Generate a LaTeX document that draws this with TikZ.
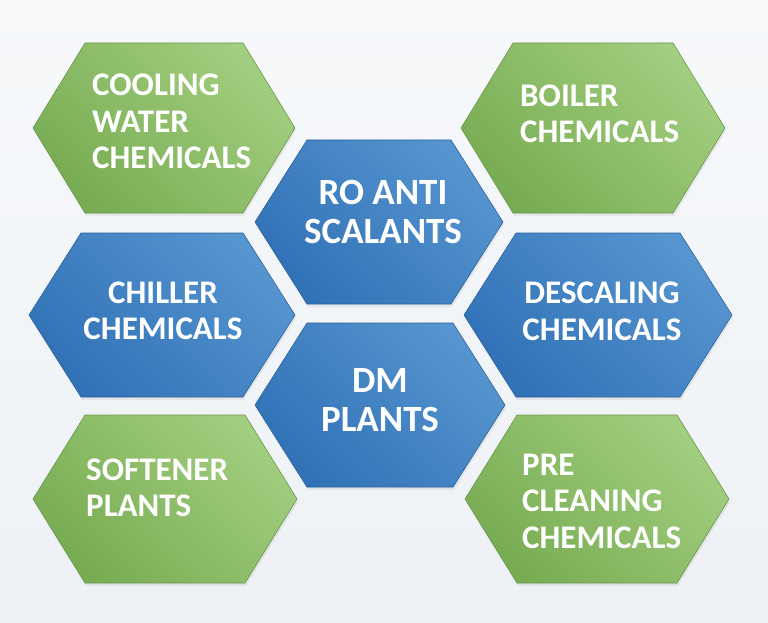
\documentclass[tikz,border=0pt]{standalone}
\usepackage{fontspec}
\setmainfont{Carlito}
\usetikzlibrary{shadows}
\definecolor{greenL}{HTML}{A2CE7F}
\definecolor{greenM}{HTML}{87BB64}
\definecolor{greenD}{HTML}{78AC53}
\definecolor{blueL}{HTML}{5695CF}
\definecolor{blueM}{HTML}{3E80C2}
\definecolor{blueD}{HTML}{3172B7}
\definecolor{paperT}{HTML}{F7F9FB}
\definecolor{paperB}{HTML}{EDF1F5}

\begin{document}
\begin{tikzpicture}[x=1pt, y=-1pt,
  greenhex/.style={top color=greenL, middle color=greenM, bottom color=greenD, shading angle=-45, draw=greenD!88!black, line width=.6pt, line join=round, drop shadow={opacity=.12, shadow xshift=1pt, shadow yshift=-3pt}},
  bluehex/.style={top color=blueL, middle color=blueM, bottom color=blueD, shading angle=-45, draw=blueD!85!black, line width=.6pt, line join=round, drop shadow={opacity=.12, shadow xshift=1pt, shadow yshift=-3pt}},
  sidetext/.style={text=white, font=\bfseries\fontsize{33}{36.5}\selectfont, inner sep=0pt, align=left},
  midtext/.style={text=white, font=\bfseries\fontsize{37}{39.5}\selectfont, inner sep=0pt, align=center}
]
\useasboundingbox (0,0) rectangle (768,623);
\shade[top color=paperT, bottom color=paperB] (0,0) rectangle (768,623);
% hexagons: centre x / centre y / half width / half height / style
\foreach \cx/\cy/\hw/\hh/\kind in {164/128/131/85/greenhex, 593/128/132/85/greenhex,
  379/222/124/82/bluehex, 162/315/133/82/bluehex, 598/315/134/82/bluehex,
  380/405/125/82/bluehex, 165/499/132/84/greenhex, 597/499/132/84/greenhex}{
  \path[\kind] (\cx-\hw,\cy) -- (\cx-\hw+52,\cy-\hh) -- (\cx+\hw-52,\cy-\hh)
    -- (\cx+\hw,\cy) -- (\cx+\hw-52,\cy+\hh) -- (\cx-\hw+52,\cy+\hh) -- cycle;
}
\node[sidetext, anchor=west] (cooling) at (92,121.5) {COOLING\\WATER\\CHEMICALS};
\node[sidetext, anchor=west] (boiler) at (520,114) {BOILER\\CHEMICALS};
\node[midtext] (ro) at (383,212) {RO ANTI\\SCALANTS};
\node[sidetext, align=center] (chiller) at (163,311) {CHILLER\\CHEMICALS};
\node[sidetext, align=center] (descaling) at (602,311.5) {DESCALING\\CHEMICALS};
\node[midtext] (dm) at (380,400) {DM\\PLANTS};
\node[sidetext, anchor=west] (softener) at (86,488) {SOFTENER\\PLANTS};
\node[sidetext, anchor=west] (precleaning) at (522,501) {PRE\\CLEANING\\CHEMICALS};
\end{tikzpicture}
\end{document}
